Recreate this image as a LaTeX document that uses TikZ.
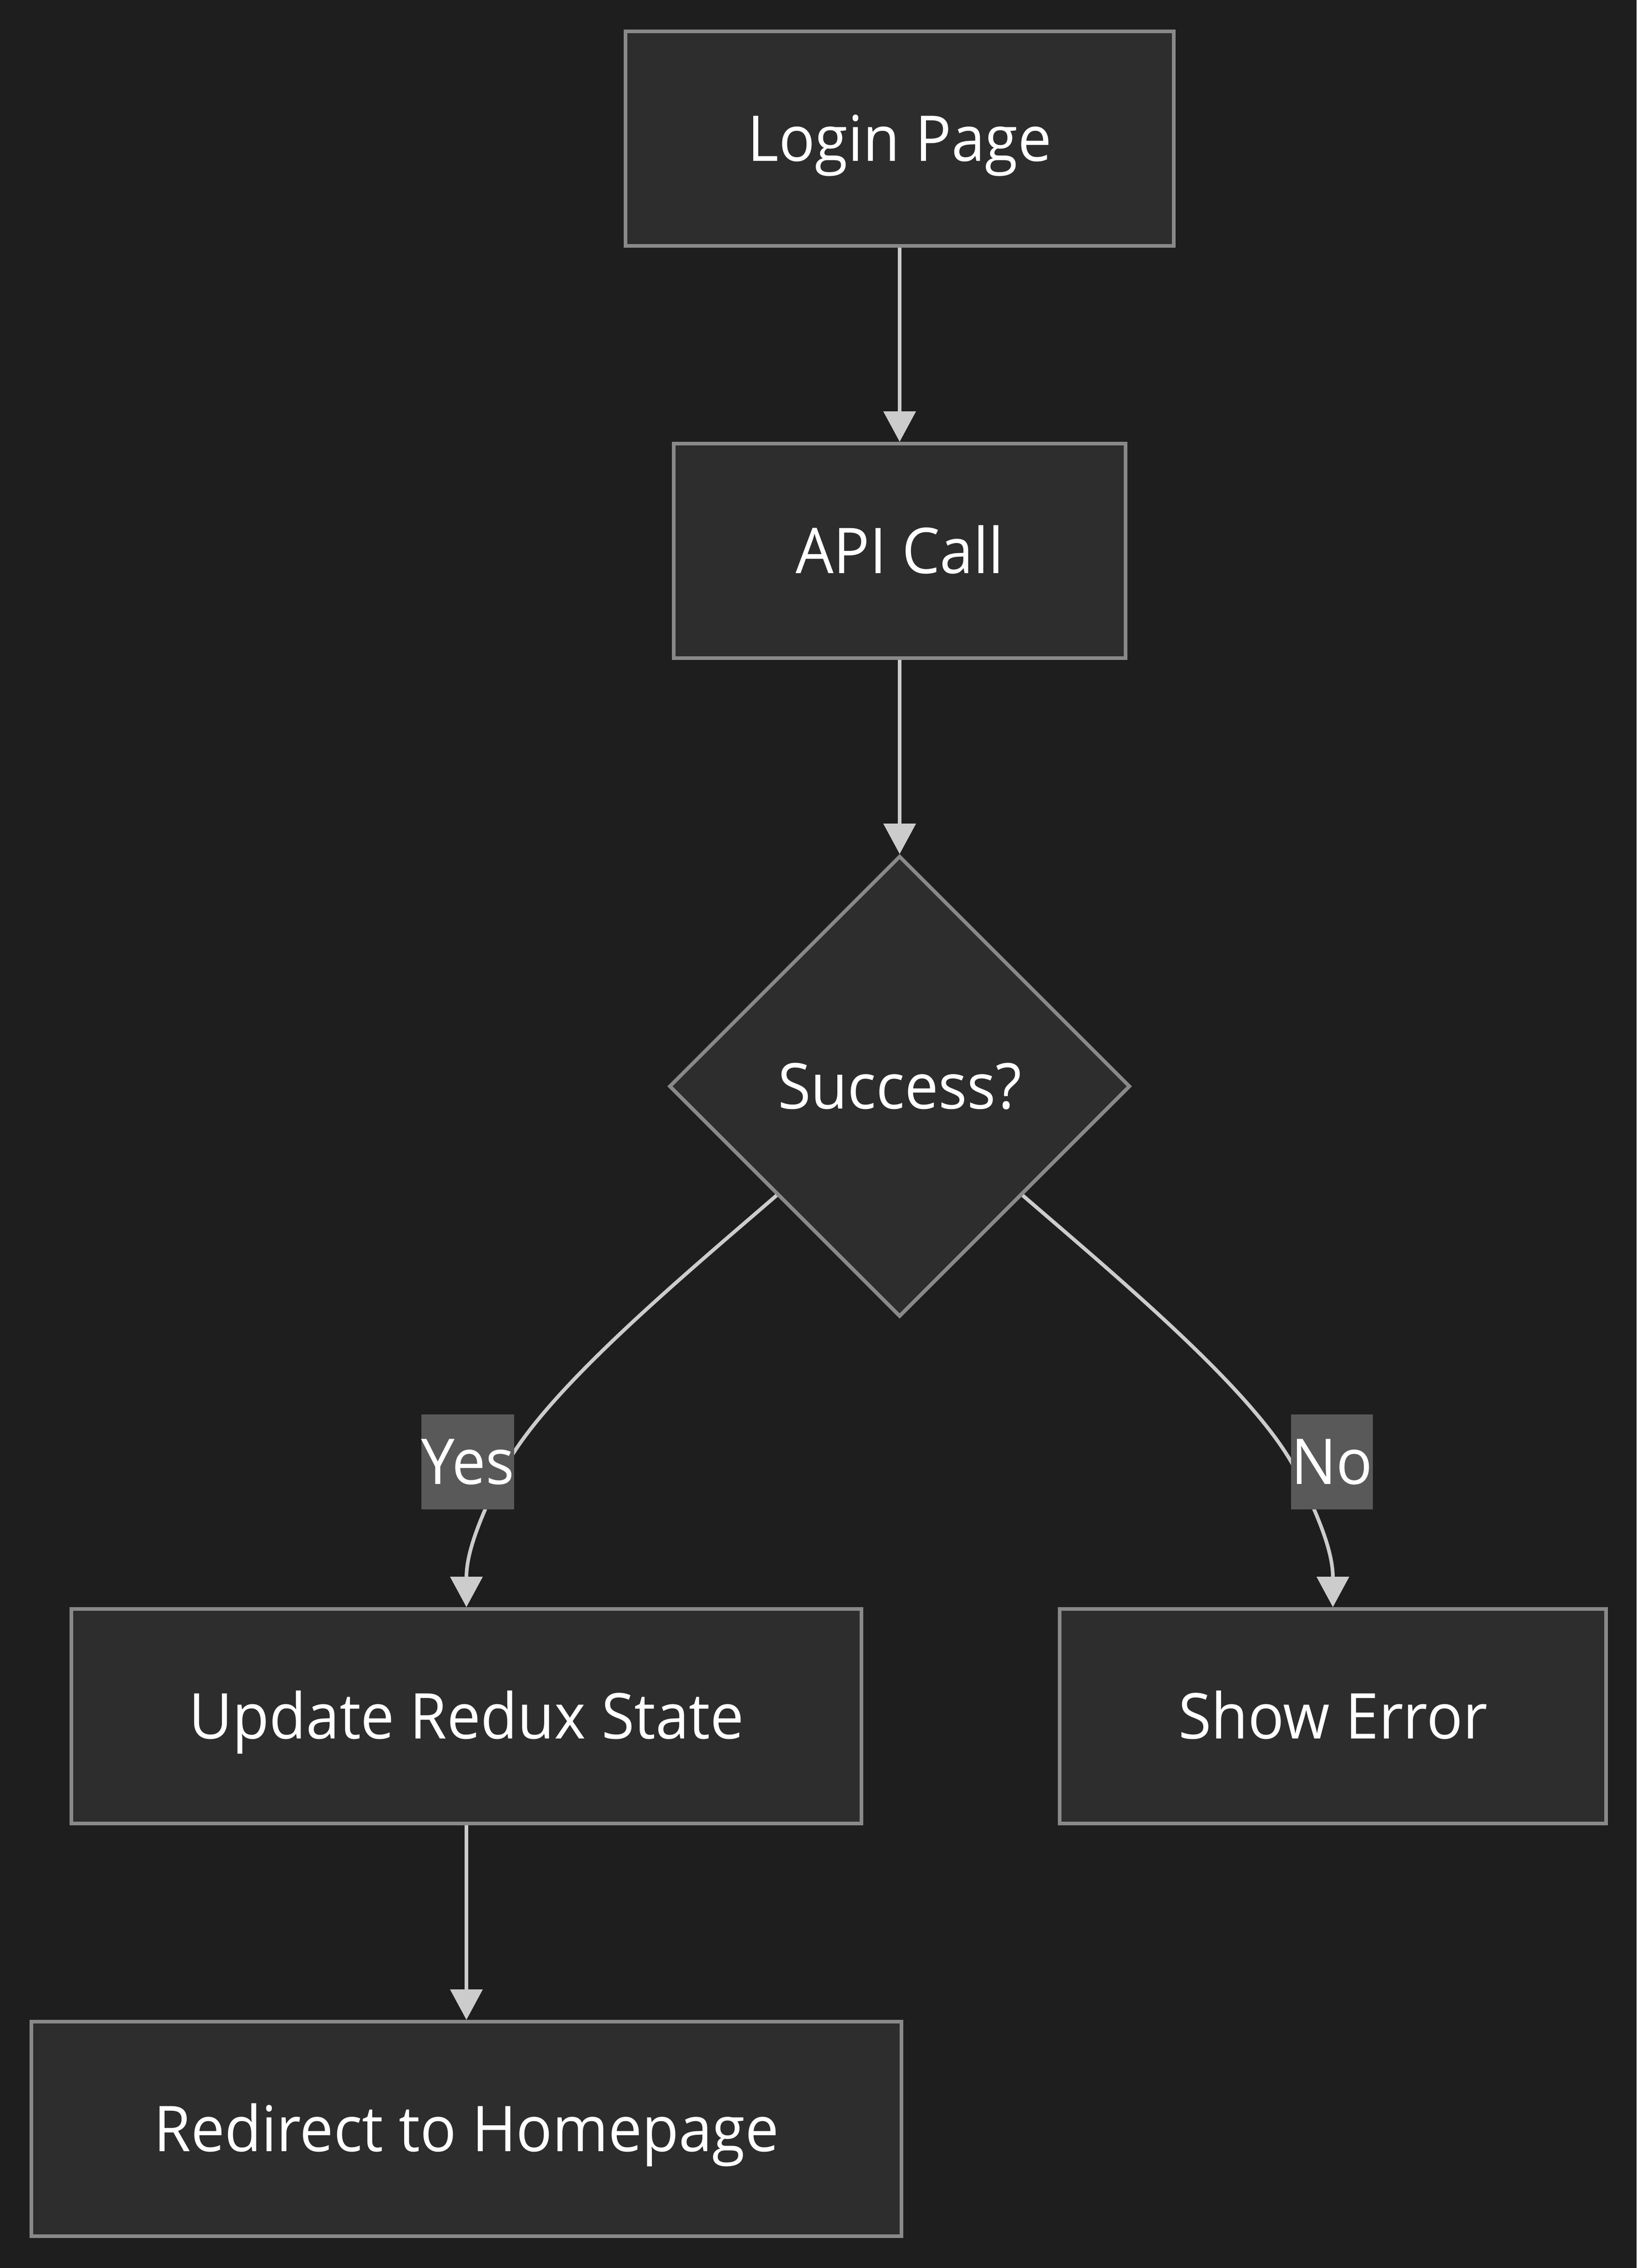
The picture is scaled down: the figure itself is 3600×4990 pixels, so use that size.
\documentclass[tikz,border=0pt]{standalone}
\usepackage{fontspec}
\setmainfont{Open Sans}[FakeStretch=0.95]
\usetikzlibrary{shapes.geometric,arrows.meta,calc}
\definecolor{bgc}{HTML}{1E1E1E}
\definecolor{boxfill}{HTML}{2D2D2D}
\definecolor{boxline}{HTML}{898989}
\definecolor{edgec}{HTML}{CCCCCC}
\definecolor{lblfill}{HTML}{595959}
\begin{document}
\begin{tikzpicture}[x=0.1pt,y=-0.1pt,
  font=\fontsize{13.9pt}{16pt}\selectfont,
  box/.style={draw=boxline,fill=boxfill,line width=0.8pt,text=white,
    minimum height=47.2pt,inner sep=0pt,text height=9.9pt,text depth=0pt},
  dec/.style={diamond,aspect=1,draw=boxline,fill=boxfill,line width=0.8pt,text=white,
    minimum size=101.4pt,inner sep=0pt,text height=9.9pt,text depth=0pt},
  lbl/.style={fill=lblfill,text=white,inner xsep=0pt,inner ysep=0pt,
    minimum height=20.9pt,text height=9.9pt,text depth=0pt},
  edge/.style={draw=edgec,line width=0.8pt,-{Triangle[width=7pt,length=6.7pt]}}]
\fill[bgc] (0,0) rectangle (3600,4990);
\useasboundingbox (0,0) rectangle (3600,4990);

\node[box,minimum width=120.6pt] (login) at (1979,305) {Login Page};
\node[box,minimum width=99.4pt] (api) at (1979,1212) {API Call};
\node[dec] (succ) at (1979,2390) {Success?};
\node[box,minimum width=173.9pt] (redux) at (1026,3776) {Update Redux State};
\node[box,minimum width=120.2pt] (err) at (2932,3776) {Show Error};
\node[box,minimum width=191.5pt] (home) at (1026,4684) {Redirect to Homepage};

\draw[edge] (login.south) -- (api.north);
\draw[edge] (api.south) -- (succ.north);
\draw[edge] (redux.south) -- (home.north);

\coordinate (ys) at ($(succ.west)!0.47!(succ.south)$);
\coordinate (ns) at ($(succ.east)!0.47!(succ.south)$);
\coordinate (ym) at (1110,3230);
\coordinate (nm) at (2848,3230);

\draw[edge] (ys) .. controls (1500,2810) and (1200,3060) .. (ym)
  .. controls (1050,3350) and (1026,3420) .. (redux.north);
\draw[edge] (ns) .. controls (2458,2810) and (2758,3060) .. (nm)
  .. controls (2908,3350) and (2932,3420) .. (err.north);

\node[lbl] (yes) at (1029,3216) {Yes};
\node[lbl] (no) at (2930,3216) {No};
\end{tikzpicture}
\end{document}
